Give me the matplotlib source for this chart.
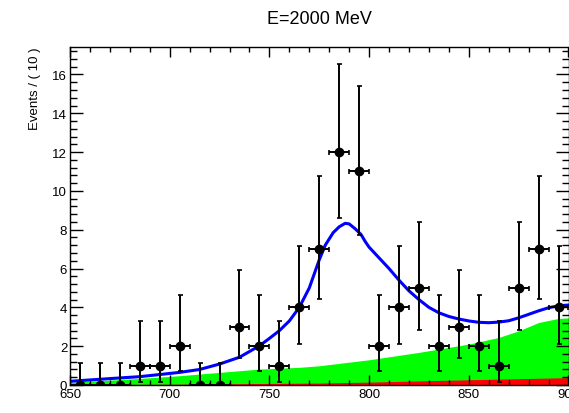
import matplotlib
matplotlib.use('Agg')
import matplotlib.pyplot as plt
from matplotlib.ticker import MultipleLocator

plt.rcParams['font.family'] = ['Liberation Sans', 'DejaVu Sans']

# data points (10 MeV bins)
bin_centers = [655, 665, 675, 685, 695, 705, 715, 725, 735, 745, 755, 765, 775,
               785, 795, 805, 815, 825, 835, 845, 855, 865, 875, 885, 895]
counts = [0, 0, 0, 1, 1, 2, 0, 0, 3, 2, 1, 4, 7,
          12, 11, 2, 4, 5, 2, 3, 2, 1, 5, 7, 4]
# asymmetric poisson errors
err_lo = [0, 0, 0, 0.83, 0.83, 1.29, 0, 0, 1.63, 1.29, 0.83, 1.91, 2.58,
          3.42, 3.27, 1.29, 1.91, 2.16, 1.29, 1.63, 1.29, 0.83, 2.16, 2.58, 1.91]
err_hi = [1.15, 1.15, 1.15, 2.30, 2.30, 2.64, 1.15, 1.15, 2.92, 2.64, 2.30, 3.16, 3.77,
          4.56, 4.42, 2.64, 3.16, 3.38, 2.64, 2.92, 2.64, 2.30, 3.38, 3.77, 3.16]

# total fit (blue)
fit_x = [650, 660, 670, 685, 705, 715, 725, 735, 745, 750, 755, 760, 765, 770, 775,
         778, 782, 785, 788, 790, 793, 796, 798, 800, 805, 810, 815, 820, 825,
         830, 835, 840, 845, 850, 855, 860, 865, 870, 875, 880, 885, 890, 895, 900]
fit_y = [0.19, 0.26, 0.33, 0.43, 0.65, 0.80, 1.08, 1.43, 2.02, 2.40, 2.80, 3.30, 4.00, 5.00, 6.45,
         7.20, 7.85, 8.15, 8.33, 8.30, 8.05, 7.75, 7.40, 7.10, 6.55, 6.00, 5.40, 4.85, 4.40,
         4.00, 3.72, 3.53, 3.40, 3.30, 3.23, 3.21, 3.24, 3.31, 3.46, 3.64, 3.82, 3.98, 4.08, 4.12]

# background (green)
bkg_x = [650, 685, 705, 725, 745, 765, 775, 800, 825, 850, 865, 875, 885, 895, 900]
bkg_y = [0.14, 0.34, 0.48, 0.65, 0.82, 0.91, 0.99, 1.30, 1.68, 2.11, 2.45, 2.79, 3.22, 3.43, 3.46]

# second background (red)
red_x = [650, 700, 750, 775, 800, 850, 900]
red_y = [0.02, 0.04, 0.08, 0.10, 0.15, 0.27, 0.38]

fig = plt.figure(figsize=(5.69, 4.14), dpi=100)
ax = fig.add_axes([70 / 569, 28 / 414, 498.5 / 569, 338.5 / 414])

ax.fill_between(bkg_x, 0, bkg_y, color='#00ff00', lw=0)
ax.fill_between(red_x, 0, red_y, color='#ff0000', lw=0)
ax.plot(fit_x, fit_y, color='#0000ff', lw=2.2)
ax.errorbar(bin_centers, counts, yerr=[err_lo, err_hi], xerr=5, fmt='o', color='black',
            ms=6, elinewidth=1.4, capsize=1.8, capthick=1.2)

ax.set_xlim(650, 900)
ax.set_ylim(0, 17.44)
ax.xaxis.set_major_locator(MultipleLocator(50))
ax.xaxis.set_minor_locator(MultipleLocator(10))
ax.yaxis.set_major_locator(MultipleLocator(2))
ax.yaxis.set_minor_locator(MultipleLocator(0.4))
ax.tick_params(which='both', direction='in', top=True, right=True, labelsize=9.5, width=1)
ax.tick_params(axis='y', which='major', length=9.5, pad=2)
ax.tick_params(axis='y', which='minor', length=5)
ax.tick_params(axis='x', which='major', length=7.5, pad=2)
ax.tick_params(axis='x', which='minor', length=3.8)
for s in ax.spines.values():
    s.set_linewidth(1)

ax.set_title('E=2000 MeV', fontsize=13, pad=17)
ax.set_ylabel('Events / ( 10 )', fontsize=9.5, loc='top')
ax.yaxis.set_label_coords(-0.058, 1.0)
ax.set_xlabel(r'$m_{\gamma\gamma}$, MeV', fontsize=9.5, loc='right')
ax.xaxis.set_label_coords(1.015, -0.08)

fig.savefig('out.png', dpi=100)
